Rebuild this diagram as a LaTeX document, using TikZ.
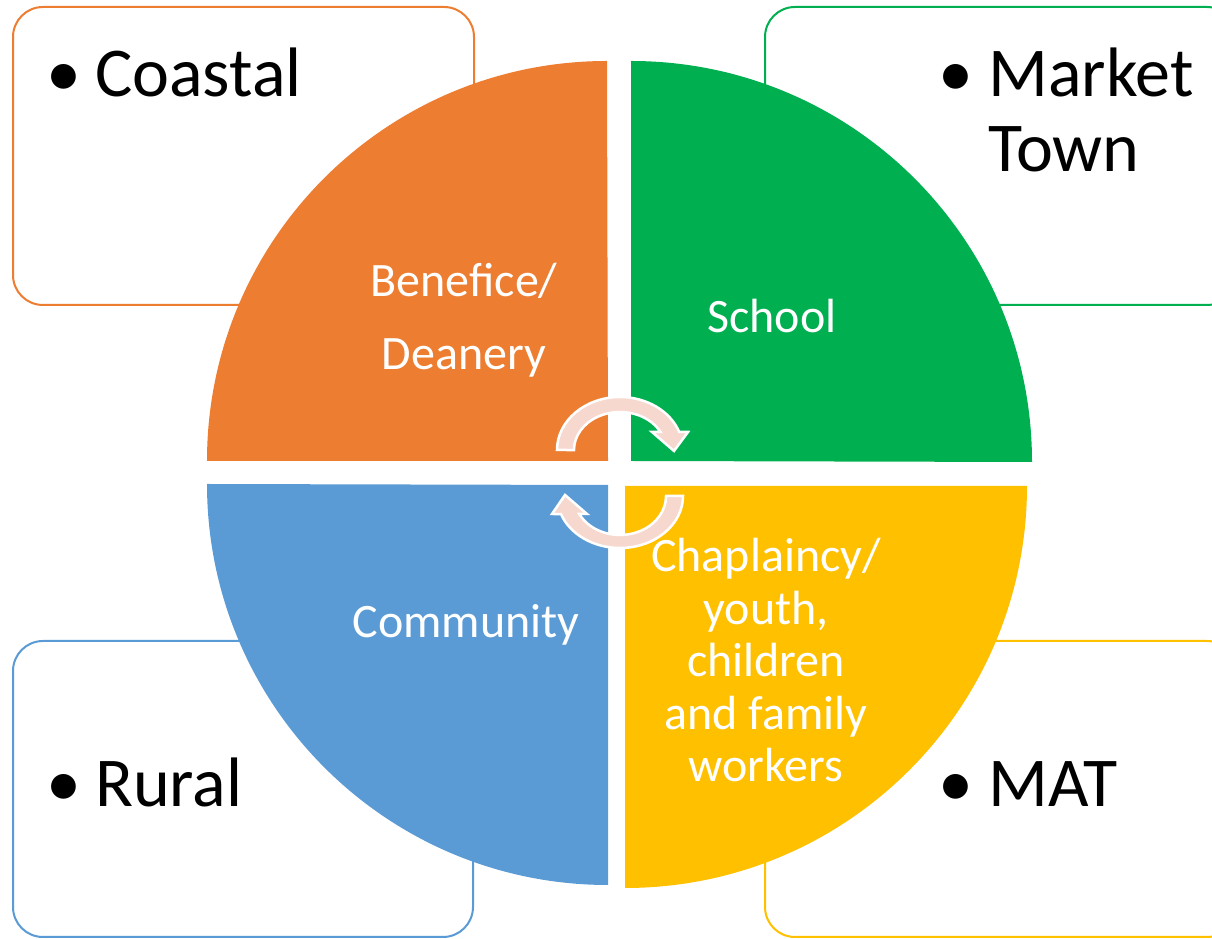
\documentclass[tikz,border=0pt]{standalone}
\usepackage{fontspec}
\setmainfont{Carlito}
\definecolor{corange}{HTML}{ED7D31}
\definecolor{cgreen}{HTML}{00B050}
\definecolor{cblue}{HTML}{5B9BD5}
\definecolor{cyellow}{HTML}{FFC000}
\definecolor{cpink}{HTML}{F7D8CF}
\begin{document}
\begin{tikzpicture}[x=1pt,y=1pt,
  outerbox/.style={draw, fill=white, line width=2pt, rounded corners=30pt, inner sep=0pt},
  bigtext/.style={anchor=base west, inner sep=0pt, text=black, font=\fontsize{70}{75}\selectfont},
  quartertext/.style={anchor=base, inner sep=0pt, text=white, font=\fontsize{48}{52.5}\selectfont},
  cyclearrow/.style={fill=cpink, draw=white, line width=2.5pt, line join=miter}
]
\useasboundingbox (0,0) rectangle (1212,939);
\clip (0,0) rectangle (1212,939);
% outer boxes
\node[outerbox, draw=corange, minimum width=461pt, minimum height=298pt] (boxTL) at (243.5,783) {};
\node[outerbox, draw=cgreen, minimum width=472pt, minimum height=298pt] (boxTR) at (1001,783) {};
\node[outerbox, draw=cblue, minimum width=460pt, minimum height=296pt] (boxBL) at (243,150) {};
\node[outerbox, draw=cyellow, minimum width=472pt, minimum height=296pt] (boxBR) at (1001,150) {};
% quarter circles
\fill[corange] (608,478) -- (207,478) arc[start angle=180, end angle=90, radius=400] -- cycle;
\fill[cgreen] (631,478) -- (631,878) arc[start angle=90, end angle=0, radius=401] -- cycle;
\fill[cblue] (608,454) -- (608,54) arc[start angle=270, end angle=180, radius=401] -- cycle;
\fill[cyellow] (625,453) -- (1027,453) arc[start angle=0, end angle=-90, radius=402] -- cycle;
% box texts
\node[bigtext] (coastal) at (46,842) {\makebox[49pt][l]{•}Coastal};
\node[bigtext] (market) at (938,842) {\makebox[50pt][l]{•}\begin{tabular}[t]{@{}l@{}}Market\\Town\end{tabular}};
\node[bigtext] (rural) at (46,132) {\makebox[49pt][l]{•}Rural};
\node[bigtext] (mat) at (938,132) {\makebox[50pt][l]{•}MAT};
% quarter texts
\node[quartertext] (benefice) at (464,642) {\fontsize{48}{73}\selectfont\begin{tabular}[t]{@{}c@{}}Benefice/\\Deanery\end{tabular}};
\node[quartertext] (school) at (772,606) {School};
\node[quartertext] (community) at (466,301) {Community};
\node[quartertext] (chaplaincy) at (766,367) {\begin{tabular}[t]{@{}c@{}}Chaplaincy/\\youth,\\children\\and family\\workers\end{tabular}};
% circular arrows
\filldraw[cyclearrow] (557,489) arc[start angle=180, end angle=19.9, x radius=63, y radius=53]
  -- (688,507) -- (674,488) -- (652,507) -- (660.5,507)
  arc[start angle=28.3, end angle=180, x radius=46, y radius=38] -- cycle;
\filldraw[cyclearrow] (683,443) arc[start angle=0, end angle=-159.7, x radius=63, y radius=52]
  -- (552,425) -- (565,444) -- (587,425) -- (579.2,425)
  arc[start angle=-152.5, end angle=0, x radius=46, y radius=39] -- cycle;
\end{tikzpicture}
\end{document}
